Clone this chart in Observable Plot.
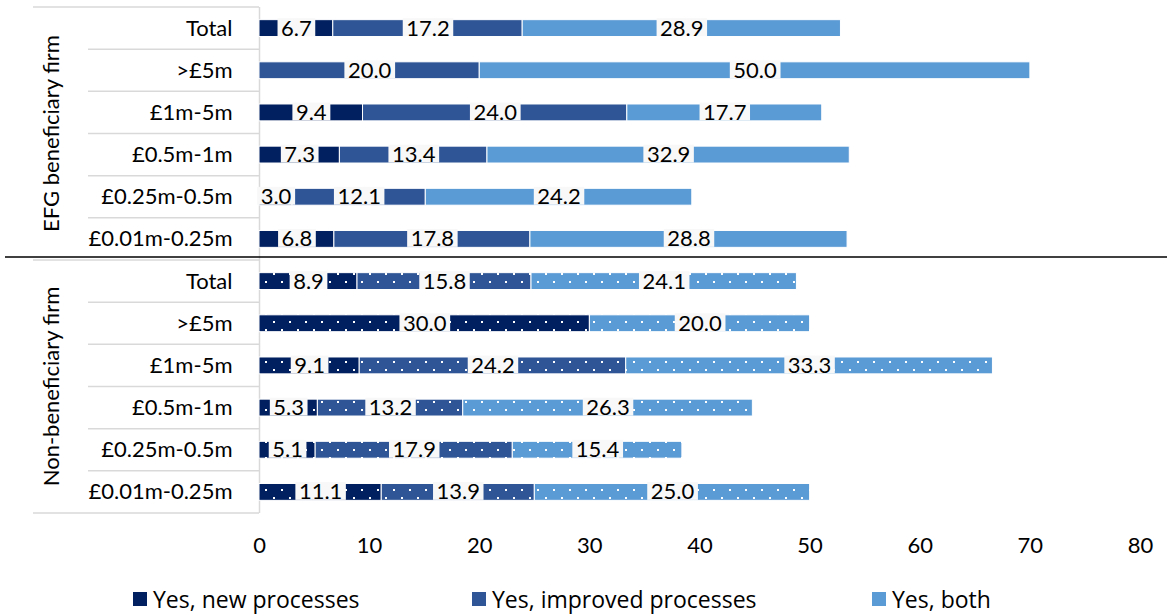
<!DOCTYPE html>
<html>
<head>
<meta charset="utf-8">
<script src="https://cdn.jsdelivr.net/npm/d3@7"></script>
<script src="https://cdn.jsdelivr.net/npm/@observablehq/plot@0.6"></script>
<style>
  html, body { margin: 0; padding: 0; background: #fff; }
  #chart { width: 1167px; }
  .legend { position: relative; width: 1167px; height: 42px; font-family: "Open Sans", sans-serif; font-size: 23px; color: #000; }
  .legend .item { position: absolute; top: 15px; height: 24px; line-height: 24px; display: flex; align-items: center; white-space: nowrap; }
  .legend .sw { width: 14px; height: 14px; margin-right: 6px; }
</style>
</head>
<body>
<div id="chart"></div>
<div class="legend" id="legend"></div>
<script>
// Firm groups, turnover bands and response series
const groups = ["EFG beneficiary firm", "Non-beneficiary firm"];
const categories = ["Total", ">£5m", "£1m-5m", "£0.5m-1m", "£0.25m-0.5m", "£0.01m-0.25m"];
const series = ["Yes, new processes", "Yes, improved processes", "Yes, both"];
const seriesColors = ["#002060", "#2F5597", "#5B9BD5"];

// Percentages per turnover band (same order as categories)
const efgNew      = [6.7, 0,    9.4,  7.3,  3.0,  6.8];
const efgImproved = [17.2, 20.0, 24.0, 13.4, 12.1, 17.8];
const efgBoth     = [28.9, 50.0, 17.7, 32.9, 24.2, 28.8];
const nonNew      = [8.9, 30.0, 9.1,  5.3,  5.1,  11.1];
const nonImproved = [15.8, 0,    24.2, 13.2, 17.9, 13.9];
const nonBoth     = [24.1, 20.0, 33.3, 26.3, 15.4, 25.0];

const xTicks = [0, 10, 20, 30, 40, 50, 60, 70, 80];

// Long-format table for stacking
const valuesByGroup = [
  [efgNew, efgImproved, efgBoth],
  [nonNew, nonImproved, nonBoth]
];
const keys = [];
const rows = [];
groups.forEach((g, gi) => {
  categories.forEach((c, ci) => {
    const key = g + "|" + c;
    keys.push(key);
    series.forEach((s, si) => {
      rows.push({key, group: g, gi, category: c, series: s, si, value: valuesByGroup[gi][si][ci]});
    });
  });
});

// Beneficiary firms get solid fills, non-beneficiary firms a dotted pattern
const fillFor = d => d.gi === 0 ? seriesColors[d.si] : `url(#dots-${d.si})`;

const chart = Plot.plot({
  width: 1167,
  height: 572,
  marginLeft: 259,
  marginRight: 27,
  marginTop: 7,
  marginBottom: 59,
  style: {fontFamily: "Lato, sans-serif", fontSize: "22px", color: "#000", background: "#fff", overflow: "visible"},
  x: {domain: [0, 80], ticks: xTicks, tickSize: 0, tickPadding: 24, label: null},
  y: {domain: keys, paddingInner: 0.6, paddingOuter: 0.3, round: false, tickSize: 0, tickPadding: 27, label: null,
      tickFormat: k => k.split("|")[1]},
  color: {type: "identity"},
  marks: [
    Plot.ruleX([0], {stroke: "#d9d9d9", strokeWidth: 1.5}),
    Plot.barX(rows, Plot.stackX({x: "value", y: "key", fill: fillFor, stroke: "#fff", strokeWidth: 1})),
    Plot.text(rows, Plot.stackX({filter: d => d.value > 0, x: "value", y: "key",
      text: d => d.value.toFixed(1), fill: "#000", fontSize: 22}))
  ]
});

document.getElementById("chart").appendChild(chart);

const svg = d3.select(chart);

// Dot patterns for the non-beneficiary bars
const defs = svg.insert("defs", ":first-child");
seriesColors.forEach((col, i) => {
  const p = defs.append("pattern")
    .attr("id", `dots-${i}`)
    .attr("patternUnits", "userSpaceOnUse")
    .attr("width", 16).attr("height", 16);
  p.append("rect").attr("width", 16).attr("height", 16).attr("fill", col);
  p.append("rect").attr("x", 1).attr("y", 1).attr("width", 2).attr("height", 2).attr("fill", "#fff");
  p.append("rect").attr("x", 9).attr("y", 9).attr("width", 2).attr("height", 2).attr("fill", "#fff");
});

// Band geometry from the y scale
const ys = chart.scale("y");
const centers = keys.map(k => ys.apply(k) + ys.bandwidth / 2);
const step = centers[1] - centers[0];
const bw = ys.bandwidth;
const rowTop = i => centers[i] - step / 2;

// Label boxes behind the value labels
svg.selectAll('g[aria-label="text"] text').each(function() {
  const t = this;
  const b = t.getBBox();
  const cy = b.y + b.height / 2;
  d3.select(t.parentNode).insert("rect", () => t)
    .attr("x", b.x - 3.5)
    .attr("y", cy - bw / 2 - 0.5)
    .attr("width", b.width + 7)
    .attr("height", bw + 1)
    .attr("fill", "#f8f8f8")
    .attr("transform", t.getAttribute("transform"));
});

// Category table lines and group titles in the left margin
const deco = svg.append("g").attr("stroke", "#d9d9d9").attr("stroke-width", 1.5);
const xEdge = 259;
const nPer = categories.length;
groups.forEach((g, gi) => {
  const first = gi * nPer;
  const top = rowTop(first);
  const bottom = rowTop(first) + nPer * step;
  deco.append("line").attr("x1", 33).attr("x2", xEdge).attr("y1", top).attr("y2", top);
  for (let i = 1; i < nPer; i++) {
    const y = rowTop(first + i);
    deco.append("line").attr("x1", 88).attr("x2", xEdge).attr("y1", y).attr("y2", y);
  }
  if (gi === groups.length - 1) {
    deco.append("line").attr("x1", 33).attr("x2", xEdge).attr("y1", bottom).attr("y2", bottom);
  }
  svg.append("text")
    .attr("transform", `translate(59,${(top + bottom) / 2}) rotate(-90)`)
    .attr("text-anchor", "middle")
    .attr("fill", "#000")
    .style("font-size", "22px")
    .text(g);
});

// Divider between the two firm groups
const divY = rowTop(nPer) - 3;
svg.append("line")
  .attr("x1", 5).attr("x2", 1167).attr("y1", divY).attr("y2", divY)
  .attr("stroke", "#000").attr("stroke-width", 1.5);

// Legend
const legendLeft = [133, 472, 872];
const legend = d3.select("#legend");
series.forEach((s, i) => {
  const item = legend.append("div").attr("class", "item").style("left", legendLeft[i] + "px");
  item.append("div").attr("class", "sw").style("background", seriesColors[i]);
  item.append("span").text(s);
});
</script>
</body>
</html>
